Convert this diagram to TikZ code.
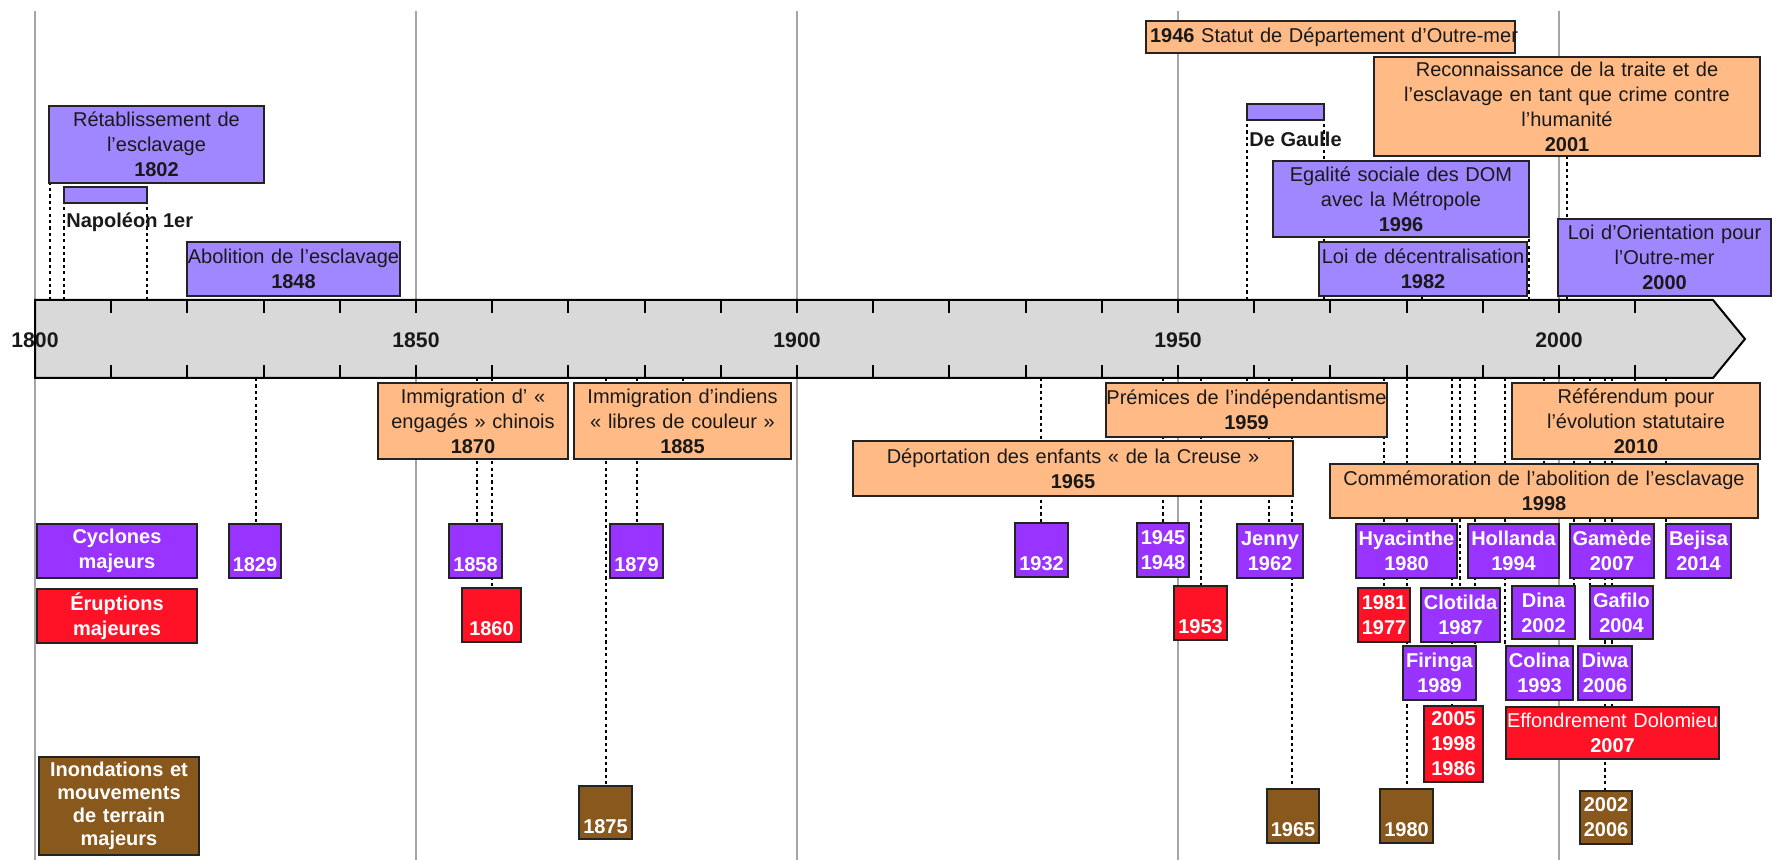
\documentclass[tikz,border=0pt]{standalone}
\usepackage{fontspec}
\setmainfont{Liberation Sans}
\usetikzlibrary{backgrounds}
\definecolor{lpurp}{RGB}{160,135,255}
\definecolor{orng}{RGB}{255,186,133}
\definecolor{cycl}{RGB}{153,51,255}
\definecolor{erup}{RGB}{255,17,38}
\definecolor{brwn}{RGB}{136,88,28}
\definecolor{axfill}{RGB}{217,217,217}
\definecolor{gridc}{RGB}{165,165,165}
\definecolor{edgec}{RGB}{35,35,35}
\definecolor{txtc}{RGB}{25,25,25}
\newcommand\bxnode[7]{%
  \pgfmathsetmacro\mybw{(#5-#3)*0.5}%
  \pgfmathsetmacro\mybh{(#6-#4)*0.5}%
  \pgfmathsetmacro\mycx{(#3+#5)/2}%
  \pgfmathsetmacro\mycy{(#4+#6)/2}%
  \node[#1, text width=\mybw pt, minimum height=\mybh pt] (#2) at (\mycx,\mycy) {#7};}
\newcommand\yronly[1]{\rule{0pt}{8.4pt}\\#1}
\tikzset{
  evbox/.style={draw=edgec, line width=1pt, inner sep=0pt, align=center, font=\fontsize{10}{12.5}\selectfont},
  pol/.style={evbox, fill=lpurp, text=txtc},
  soc/.style={evbox, fill=orng, text=txtc},
  cyc/.style={evbox, fill=cycl, text=white, font=\fontsize{10}{12.5}\selectfont\bfseries},
  eru/.style={evbox, fill=erup, text=white, font=\fontsize{10}{12.5}\selectfont\bfseries},
  inon/.style={evbox, fill=brwn, text=white, font=\fontsize{10}{12.5}\selectfont\bfseries},
  lnk/.style={draw=black, line width=0.8pt, dash pattern=on 1.6pt off 1.6pt},
  gridln/.style={draw=gridc, line width=0.9pt},
  axlab/.style={font=\fontsize{10.6}{12}\selectfont\bfseries, text=txtc, inner sep=0pt},
  barlab/.style={font=\fontsize{10}{12}\selectfont\bfseries, text=txtc, inner sep=0pt, anchor=west},
}
\begin{document}
\begin{tikzpicture}[x=0.5pt,y=-0.5pt]
\useasboundingbox (0,0) rectangle (1773,860);
\begin{pgfonlayer}{background}
\fill[white] (0,0) rectangle (1773,860);
\foreach \gx in {35,416,797,1178,1559} {\draw[gridln] (\gx,11) -- (\gx,860);}
\end{pgfonlayer}

% axis
\draw[fill=axfill, draw=black, line width=1pt] (35,300) -- (1713,300) -- (1745,339) -- (1713,378) -- (35,378) -- cycle;
\foreach \k in {1,...,21} {\draw[line width=1pt] ({35+76.2*\k},300) -- ++(0,13) ({35+76.2*\k},378) -- ++(0,-13);}
\node[axlab] (y1800) at (35,340) {1800};
\node[axlab] (y1850) at (416,340) {1850};
\node[axlab] (y1900) at (797,340) {1900};
\node[axlab] (y1950) at (1178,340) {1950};
\node[axlab] (y2000) at (1559,340) {2000};

% axis anchor points (top side)
\coordinate (t1802) at (50,300);
\coordinate (t1804) at (64,300);
\coordinate (t1815) at (147,300);
\coordinate (t1958) at (1247,300);
\coordinate (t1969) at (1324,300);
\coordinate (t1982) at (1422,300);
\coordinate (t1996) at (1529,300);
\coordinate (t2001) at (1567,300);
% axis anchor points (bottom side)
\coordinate (b1829) at (256,378);
\coordinate (b1858) at (477,378);
\coordinate (b1860) at (492,378);
\coordinate (b1875) at (606,378);
\coordinate (b1879) at (637,378);
\coordinate (b1885) at (683,378);
\coordinate (b1932) at (1041,378);
\coordinate (b1948) at (1163,378);
\coordinate (b1953) at (1201,378);
\coordinate (b1959) at (1247,378);
\coordinate (b1962) at (1269,378);
\coordinate (b1965) at (1292,378);
\coordinate (b1977) at (1384,378);
\coordinate (b1980) at (1407,378);
\coordinate (b1986) at (1452,378);
\coordinate (b1987) at (1460,378);
\coordinate (b1989) at (1475,378);
\coordinate (b1993) at (1505,378);
\coordinate (b1998) at (1544,378);
\coordinate (b2002) at (1574,378);
\coordinate (b2004) at (1590,378);
\coordinate (b2006) at (1605,378);
\coordinate (b2007) at (1612,378);
\coordinate (b2010) at (1635,378);
\coordinate (b2014) at (1666,378);

% upper events
\bxnode{pol}{retab}{49}{106}{264}{183}{Rétablissement de\\l'esclavage\\\textbf{1802}}
\bxnode{pol}{napo}{64}{187}{147}{203}{}
\node[barlab] (napolbl) at (66,222) {Napoléon 1er};
\bxnode{pol}{aboli}{187}{242}{400}{296}{Abolition de l'esclavage\\\textbf{1848}}
\bxnode{soc, align=left}{statut}{1146}{21}{1515}{53}{\mbox{\hspace*{2pt}\textbf{1946} Statut de Département d'Outre-mer}}
\bxnode{soc}{recon}{1374}{57}{1760}{156}{Reconnaissance de la traite et de\\l'esclavage en tant que crime contre\\l'humanité\\\textbf{2001}}
\bxnode{pol}{gaulle}{1247}{104}{1324}{120}{}
\node[barlab] (gaullelbl) at (1249,139) {De Gaulle};
\bxnode{pol}{egal}{1273}{161}{1529}{237}{Egalité sociale des DOM\\avec la Métropole\\\textbf{1996}}
\bxnode{pol}{decent}{1319}{242}{1527}{296}{Loi de décentralisation\\\textbf{1982}}
\bxnode{pol}{orient}{1558}{219}{1771}{296}{Loi d'Orientation pour\\l'Outre-mer\\\textbf{2000}}

% lower society events
\bxnode{soc}{chinois}{378}{383}{568}{459}{Immigration d' «\\engagés » chinois\\\textbf{1870}}
\bxnode{soc}{indiens}{574}{383}{791}{459}{Immigration d'indiens\\« libres de couleur »\\\textbf{1885}}
\bxnode{soc}{premices}{1106}{383}{1387}{437}{Prémices de l'indépendantisme\\\textbf{1959}}
\bxnode{soc}{creuse}{853}{441}{1293}{496}{Déportation des enfants « de la Creuse »\\\textbf{1965}}
\bxnode{soc}{referend}{1512}{383}{1760}{459}{Référendum pour\\l'évolution statutaire\\\textbf{2010}}
\bxnode{soc}{commem}{1330}{464}{1758}{518}{Commémoration de l'abolition de l'esclavage\\\textbf{1998}}

% legend
\bxnode{cyc}{legcyc}{37}{524}{197}{578}{Cyclones\\majeurs}
\bxnode{eru}{legeru}{37}{589}{197}{643}{Éruptions\\majeures}
\bxnode{inon, font=\fontsize{10}{11.5}\selectfont\bfseries}{leginon}{39}{757}{199}{855}{Inondations et\\mouvements\\de terrain\\majeurs}

% cyclones
\bxnode{cyc}{c1829}{229}{524}{281}{578}{\yronly{1829}}
\bxnode{cyc}{c1858}{449}{524}{502}{578}{\yronly{1858}}
\bxnode{cyc}{c1879}{610}{524}{663}{578}{\yronly{1879}}
\bxnode{cyc}{c1932}{1015}{523}{1068}{577}{\yronly{1932}}
\bxnode{cyc}{c1948}{1137}{523}{1189}{577}{1945\\1948}
\bxnode{cyc}{jenny}{1237}{524}{1303}{578}{Jenny\\1962}
\bxnode{cyc}{hyac}{1356}{524}{1457}{578}{Hyacinthe\\1980}
\bxnode{cyc}{holl}{1468}{524}{1559}{578}{Hollanda\\1994}
\bxnode{cyc}{gamede}{1570}{524}{1654}{578}{Gamède\\2007}
\bxnode{cyc}{bejisa}{1666}{524}{1731}{578}{Bejisa\\2014}
\bxnode{cyc}{clotilda}{1421}{588}{1500}{642}{Clotilda\\1987}
\bxnode{cyc}{dina}{1512}{586}{1575}{639}{Dina\\2002}
\bxnode{cyc}{gafilo}{1590}{586}{1653}{639}{Gafilo\\2004}
\bxnode{cyc}{firinga}{1403}{646}{1476}{700}{Firinga\\1989}
\bxnode{cyc}{colina}{1506}{646}{1573}{700}{Colina\\1993}
\bxnode{cyc}{diwa}{1578}{646}{1632}{700}{Diwa\\2006}

% eruptions
\bxnode{eru}{r1860}{462}{588}{521}{642}{\yronly{1860}}
\bxnode{eru}{r1953}{1174}{586}{1227}{640}{\yronly{1953}}
\bxnode{eru}{r1977}{1358}{588}{1410}{642}{1981\\1977}
\bxnode{eru}{r1986}{1424}{706}{1483}{782}{2005\\1998\\1986}
\bxnode{eru}{effond}{1506}{707}{1719}{759}{{\mdseries Effondrement Dolomieu}\\2007}

% floods
\bxnode{inon}{n1875}{579}{786}{632}{839}{\yronly{1875}}
\bxnode{inon}{n1965}{1267}{789}{1319}{843}{\yronly{1965}}
\bxnode{inon}{n1980}{1380}{789}{1433}{843}{\yronly{1980}}
\bxnode{inon}{n2006}{1580}{791}{1632}{844}{2002\\2006}

% dotted connectors (behind boxes)
\begin{pgfonlayer}{background}
\draw[lnk] (t1802) -- (t1802 |- retab.south);
\draw[lnk] (t1804) -- (t1804 |- napo.south);
\draw[lnk] (t1815) -- (t1815 |- napo.south);
\draw[lnk] (t1958) -- (t1958 |- gaulle.south);
\draw[lnk] (t1969) -- (t1969 |- gaulle.south);
\draw[lnk] (t1982) -- (t1982 |- decent.south);
\draw[lnk] (t1996) -- (t1996 |- egal.south);
\draw[lnk] (t2001) -- (t2001 |- recon.south);
\draw[lnk] (b1829) -- (b1829 |- c1829.north);
\draw[lnk] (b1858) -- (b1858 |- c1858.north);
\draw[lnk] (b1860) -- (b1860 |- r1860.north);
\draw[lnk] (b1875) -- (b1875 |- n1875.north);
\draw[lnk] (b1879) -- (b1879 |- c1879.north);
\draw[lnk] (b1885) -- (b1885 |- indiens.north);
\draw[lnk] (b1932) -- (b1932 |- c1932.north);
\draw[lnk] (b1948) -- (b1948 |- c1948.north);
\draw[lnk] (b1953) -- (b1953 |- r1953.north);
\draw[lnk] (b1959) -- (b1959 |- premices.north);
\draw[lnk] (b1962) -- (b1962 |- jenny.north);
\draw[lnk] (b1965) -- (b1965 |- n1965.north);
\draw[lnk] (b1977) -- (b1977 |- r1977.north);
\draw[lnk] (b1980) -- (b1980 |- n1980.north);
\draw[lnk] (b1986) -- (b1986 |- r1986.north);
\draw[lnk] (b1987) -- (b1987 |- clotilda.north);
\draw[lnk] (b1989) -- (b1989 |- firinga.north);
\draw[lnk] (b1993) -- (b1993 |- colina.north);
\draw[lnk] (b1998) -- (b1998 |- commem.north);
\draw[lnk] (b2002) -- (b2002 |- dina.north);
\draw[lnk] (b2004) -- (b2004 |- gafilo.north);
\draw[lnk] (b2006) -- (b2006 |- n2006.north);
\draw[lnk] (b2007) -- (b2007 |- effond.north);
\draw[lnk] (b2010) -- (b2010 |- referend.north);
\draw[lnk] (b2014) -- (b2014 |- bejisa.north);
\end{pgfonlayer}
\end{tikzpicture}
\end{document}
